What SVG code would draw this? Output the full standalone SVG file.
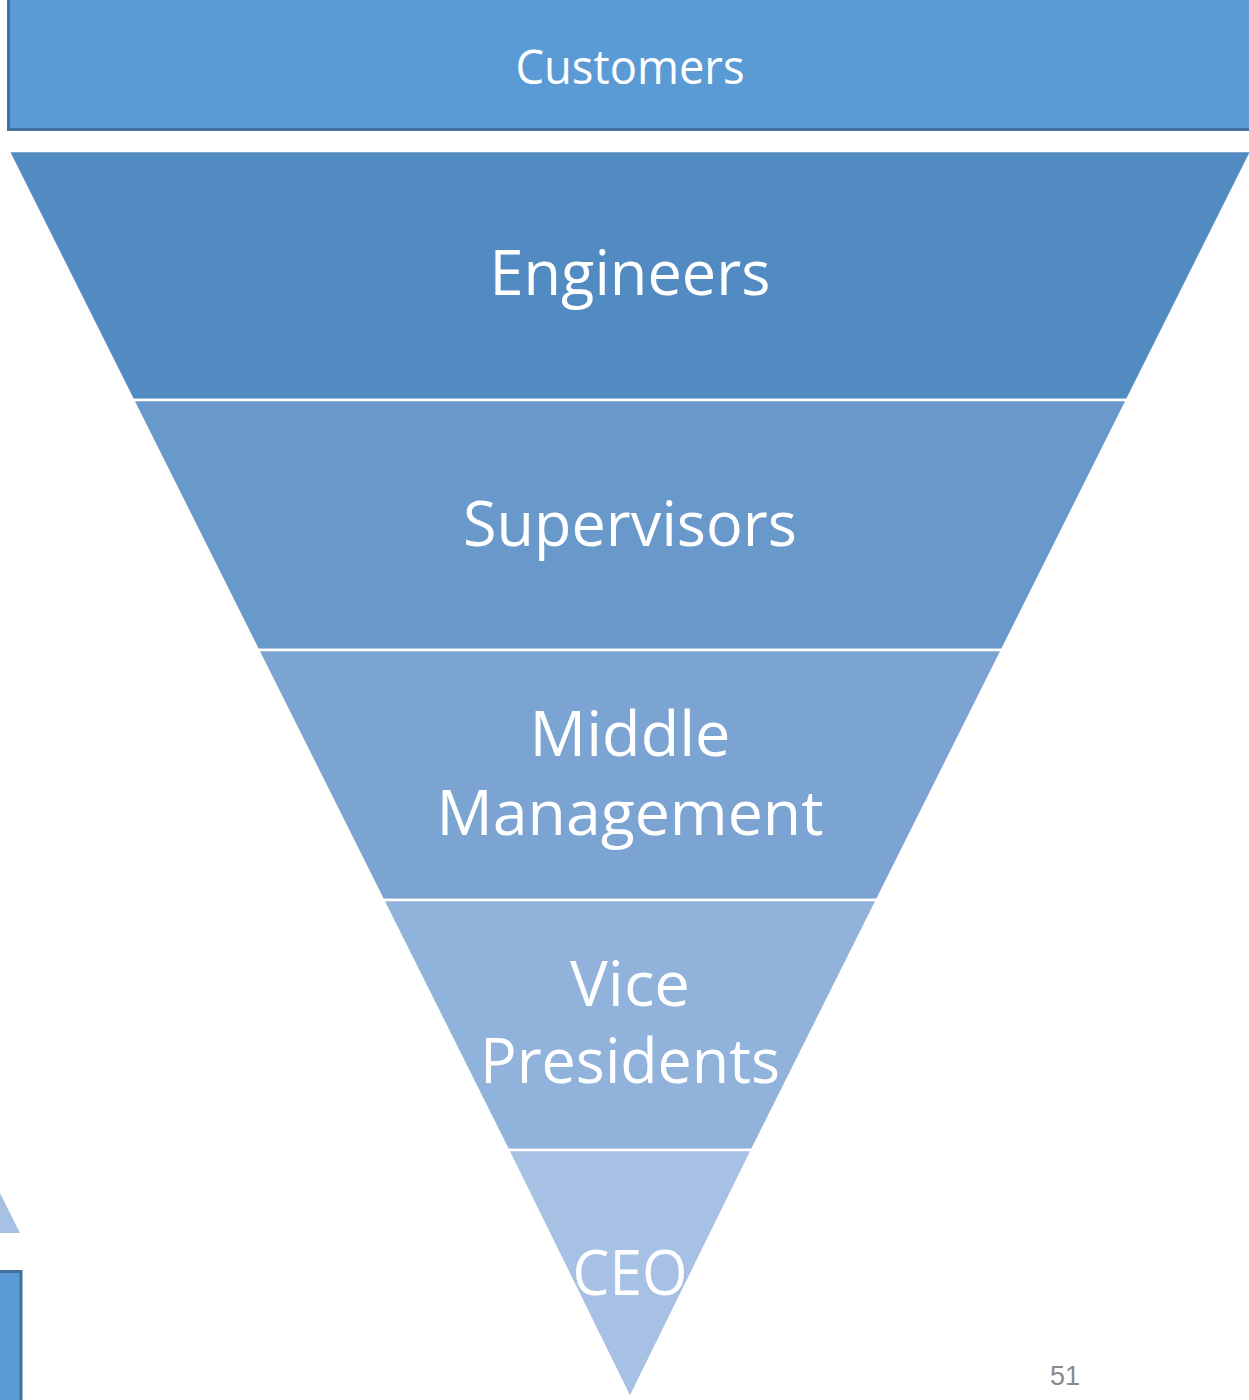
<svg xmlns="http://www.w3.org/2000/svg" width="1249" height="1400" viewBox="0 0 1249 1400">
  <style>
    .band { stroke: #ffffff; stroke-width: 2.5; }
    .lbl { font-family: "Open Sans", "Noto Sans", sans-serif; fill: #ffffff; text-anchor: middle; }
    .big { font-size: 63px; }
    .box { fill: #5B9BD5; stroke: #41719C; stroke-width: 3; }
  </style>
  <rect x="0" y="0" width="1249" height="1400" fill="#ffffff"/>

  <!-- top bar -->
  <g id="customers">
    <rect class="box" x="8.5" y="-2" width="1250" height="131.5"/>
    <text class="lbl" x="630" y="84" font-size="48" textLength="229" lengthAdjust="spacingAndGlyphs">Customers</text>
  </g>

  <!-- inverted pyramid -->
  <g id="engineers">
    <polygon class="band" fill="#528BC1" points="8.5,151 1251.5,151 1127,400 133,400"/>
    <text class="lbl big" x="630" y="295" textLength="281" lengthAdjust="spacingAndGlyphs">Engineers</text>
  </g>
  <g id="supervisors">
    <polygon class="band" fill="#6899CA" points="133,400 1127,400 1002,650 258,650"/>
    <text class="lbl big" x="630" y="546" textLength="334" lengthAdjust="spacingAndGlyphs">Supervisors</text>
  </g>
  <g id="middle-management">
    <polygon class="band" fill="#7BA4D2" points="258,650 1002,650 877,900 383,900"/>
    <text class="lbl big" x="630" y="756" textLength="201" lengthAdjust="spacingAndGlyphs">Middle</text>
    <text class="lbl big" x="630" y="835" textLength="387" lengthAdjust="spacingAndGlyphs">Management</text>
  </g>
  <g id="vice-presidents">
    <polygon class="band" fill="#91B2DB" points="383,900 877,900 752,1150 508,1150"/>
    <text class="lbl big" x="630" y="1006" textLength="120" lengthAdjust="spacingAndGlyphs">Vice</text>
    <text class="lbl big" x="630" y="1083" textLength="300" lengthAdjust="spacingAndGlyphs">Presidents</text>
  </g>
  <g id="ceo">
    <polygon class="band" fill="#A6C1E4" stroke-linejoin="miter" points="508,1150 752,1150 630,1398"/>
    <text class="lbl big" x="630" y="1295" textLength="115" lengthAdjust="spacingAndGlyphs">CEO</text>
  </g>

  <!-- partial shapes at the left edge -->
  <g id="edge-shapes">
    <polygon fill="#A6C1E4" points="-2,1193 0,1193 20,1233 -2,1233"/>
    <rect class="box" x="-5" y="1271.5" width="26" height="140"/>
  </g>

  <text id="page-number" x="1065" y="1385" font-family="Liberation Sans, Arial, sans-serif" font-size="27" fill="#8A8A8A" text-anchor="middle">51</text>
</svg>
